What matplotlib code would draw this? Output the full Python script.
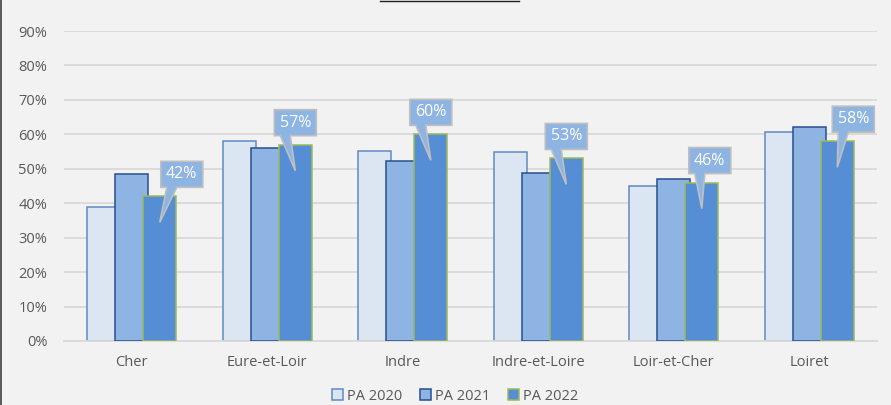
import matplotlib
matplotlib.use("Agg")
import matplotlib.pyplot as plt
import numpy as np
from matplotlib.patches import Polygon
from matplotlib.lines import Line2D
from matplotlib.transforms import Affine2D, ScaledTranslation

plt.rcParams['font.family'] = ['Open Sans', 'DejaVu Sans']

# data
departements = ['Cher', 'Eure-et-Loir', 'Indre', 'Indre-et-Loire', 'Loir-et-Cher', 'Loiret']
pa_2020 = [0.39, 0.58, 0.552, 0.548, 0.45, 0.607]
pa_2021 = [0.485, 0.56, 0.523, 0.487, 0.47, 0.62]
pa_2022 = [0.42, 0.57, 0.60, 0.53, 0.46, 0.58]
series_labels = ['PA 2020', 'PA 2021', 'PA 2022']
y_ticks = [0, 0.1, 0.2, 0.3, 0.4, 0.5, 0.6, 0.7, 0.8, 0.9]

# horizontal shift of each callout box (pixels, relative to the bar centre)
callout_shift = [22, 0, 0, 0, 8, 16]

bg = '#F2F2F2'
fills = ['#DCE6F2', '#8EB4E3', '#558ED5']
edges = ['#5F8AC4', '#284E8F', '#9BBB59']
grey_text = '#595959'

fig = plt.figure(figsize=(8.91, 4.05), dpi=100, facecolor=bg)
ax = fig.add_axes([64 / 891, 1 - 341 / 405, 813 / 891, 310 / 405], facecolor=bg)

x = np.arange(len(departements))
width = 0.245
step = 0.207
handles = []
for i, vals in enumerate([pa_2020, pa_2021, pa_2022]):
    b = ax.bar(x + (i - 1) * step, vals, width=width, color=fills[i],
               edgecolor=edges[i], linewidth=1.1, zorder=2 + i,
               label=series_labels[i])
    handles.append(b)

ax.set_xlim(-0.5, len(departements) - 0.5)
ax.set_ylim(0, 0.9)
ax.set_yticks(y_ticks)
ax.set_yticklabels([f'{int(round(t * 100))}%' for t in y_ticks])
ax.set_xticks(x)
ax.set_xticklabels(departements)
ax.tick_params(length=0, labelsize=10.5, colors=grey_text)
ax.tick_params(axis='y', pad=12)
ax.tick_params(axis='x', pad=10)
ax.yaxis.grid(True, color='#D9D9D9', linewidth=1.3, zorder=0)
ax.set_axisbelow(True)
for side in ['top', 'right', 'left']:
    ax.spines[side].set_visible(False)
ax.spines['bottom'].set_color('#D9D9D9')
ax.spines['bottom'].set_linewidth(1.3)

# callouts on the PA 2022 bars (shape in pixels, anchored to the bar top)
bw, bh = 42, 26
for i, v in enumerate(pa_2022):
    xc = x[i] + step
    left = callout_shift[i] - bw / 2
    bottom = 9
    verts = [(left, bottom), (left + 6, bottom), (0, -26), (left + 16, bottom),
             (left + bw, bottom), (left + bw, bottom + bh), (left, bottom + bh)]
    tr = Affine2D() + ScaledTranslation(xc, v, ax.transData)
    poly = Polygon(verts, closed=True, facecolor='#8DB4E2', edgecolor='#BFBFBF',
                   linewidth=1.2, transform=tr, zorder=10, clip_on=False)
    ax.add_patch(poly)
    ax.text(left + bw / 2, bottom + bh / 2, f'{v:.0%}', transform=tr,
            ha='center', va='center', color='white', fontsize=11.5, zorder=11)

ax.legend(handles=handles, loc='center', bbox_to_anchor=(455 / 891, 1 - 396 / 405),
          bbox_transform=fig.transFigure, ncol=3, frameon=False, fontsize=10.5,
          labelcolor=grey_text, handlelength=0.75, handleheight=0.75,
          handletextpad=0.3, columnspacing=1.2)

# frame remnants seen at the edges of the original screenshot
fig.add_artist(Line2D([0.5 / 891, 0.5 / 891], [0, 1], color='#404040', linewidth=1.2,
                      transform=fig.transFigure))
fig.add_artist(Line2D([380 / 891, 519 / 891], [1 - 0.5 / 405, 1 - 0.5 / 405],
                      color='#202020', linewidth=1.0, transform=fig.transFigure))

fig.savefig('out.png', dpi=100, facecolor=bg)
